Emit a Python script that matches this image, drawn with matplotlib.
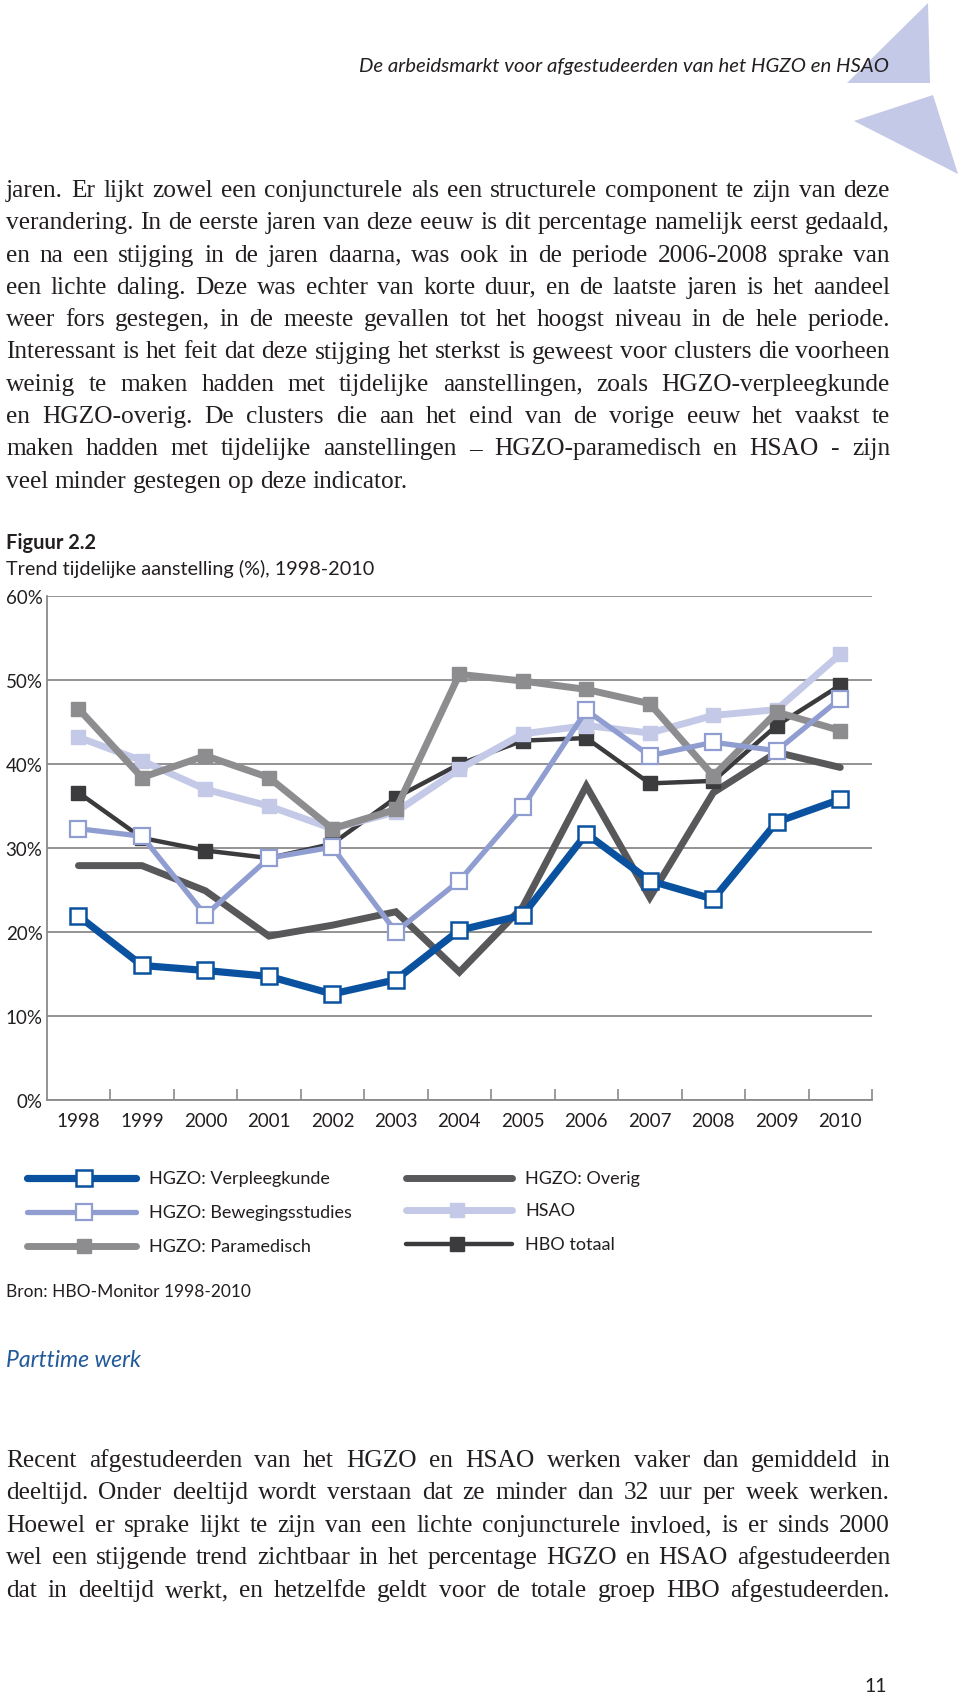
import matplotlib
matplotlib.use('Agg')
import matplotlib.pyplot as plt
from matplotlib.patches import Polygon
import numpy as np

W, H = 960, 1699

# --- data ---
years = ['1998', '1999', '2000', '2001', '2002', '2003', '2004',
         '2005', '2006', '2007', '2008', '2009', '2010']
verpleegkunde = [21.9, 16.0, 15.4, 14.7, 12.6, 14.3, 20.2, 22.0, 31.7, 26.1, 23.9, 33.1, 35.8]
bewegingsstudies = [32.3, 31.4, 22.0, 28.8, 30.1, 20.0, 26.1, 34.9, 46.4, 41.0, 42.6, 41.6, 47.8]
paramedisch = [46.6, 38.4, 41.0, 38.4, 32.3, 34.6, 50.7, 49.9, 48.9, 47.2, 38.6, 46.2, 44.0]
overig = [27.9, 27.9, 24.9, 19.5, 20.8, 22.4, 15.2, 23.0, 37.4, 24.1, 36.6, 41.4, 39.6]
hsao = [43.2, 40.4, 37.0, 35.0, 32.3, 34.3, 39.4, 43.6, 44.6, 43.7, 45.8, 46.5, 53.1]
hbo_totaal = [36.6, 31.2, 29.7, 28.8, 30.5, 36.0, 40.0, 42.8, 43.1, 37.7, 38.0, 44.6, 49.4]

yticks = [0, 10, 20, 30, 40, 50, 60]
ytick_labels = ['0%', '10%', '20%', '30%', '40%', '50%', '60%']

header = 'De arbeidsmarkt voor afgestudeerden van het HGZO en HSAO'
fig_title = 'Figuur 2.2'
fig_subtitle = 'Trend tijdelijke aanstelling (%), 1998-2010'
source = 'Bron: HBO-Monitor 1998-2010'
section = 'Parttime werk'
page_no = '11'

body_top = [
    "jaren. Er lijkt zowel een conjuncturele als een structurele component te zijn van deze",
    "verandering. In de eerste jaren van deze eeuw is dit percentage namelijk eerst gedaald,",
    "en na een stijging in de jaren daarna, was ook in de periode 2006-2008 sprake van",
    "een lichte daling. Deze was echter van korte duur, en de laatste jaren is het aandeel",
    "weer fors gestegen, in de meeste gevallen tot het hoogst niveau in de hele periode.",
    "Interessant is het feit dat deze stijging het sterkst is geweest voor clusters die voorheen",
    "weinig te maken hadden met tijdelijke aanstellingen, zoals HGZO-verpleegkunde",
    "en HGZO-overig. De clusters die aan het eind van de vorige eeuw het vaakst te",
    "maken hadden met tijdelijke aanstellingen – HGZO-paramedisch en HSAO -  zijn",
    "veel minder gestegen op deze indicator.",
]
body_bottom = [
    "Recent afgestudeerden van het HGZO en HSAO werken vaker dan gemiddeld in",
    "deeltijd. Onder deeltijd wordt verstaan dat ze minder dan 32 uur per week werken.",
    "Hoewel er sprake lijkt te zijn van een lichte conjuncturele invloed, is er sinds 2000",
    "wel een stijgende trend zichtbaar in het percentage HGZO en HSAO afgestudeerden",
    "dat in deeltijd werkt, en hetzelfde geldt voor de totale groep HBO afgestudeerden.",
]

# series in drawing order (bottom to top)
series = [
    ('HGZO: Overig', overig, dict(color='#58585a', lw=5.0, marker=None)),
    ('HBO totaal', hbo_totaal, dict(color='#3b3b3d', lw=3.2, marker='s', ms=9.5, mfc='#3b3b3d', mec='#3b3b3d')),
    ('HSAO', hsao, dict(color='#c3c9e6', lw=5.0, marker='s', ms=10, mfc='#c3c9e6', mec='#c3c9e6')),
    ('HGZO: Paramedisch', paramedisch, dict(color='#8d8d8f', lw=5.0, marker='s', ms=10.5, mfc='#8d8d8f', mec='#8d8d8f')),
    ('HGZO: Bewegingsstudies', bewegingsstudies, dict(color='#8f9dd0', lw=3.8, marker='s', ms=11, mfc='white', mec='#8f9dd0', mew=1.6)),
    ('HGZO: Verpleegkunde', verpleegkunde, dict(color='#0a52a0', lw=5.2, marker='s', ms=11, mfc='white', mec='#0a52a0', mew=1.8)),
]
style = {name: st for name, _, st in series}

TXT = '#231f20'
COND = ['DejaVu Sans Condensed', 'Liberation Sans Narrow', 'Lato', 'DejaVu Sans']
SANS = ['Lato', 'DejaVu Sans']

fig = plt.figure(figsize=(W / 100, H / 100), dpi=100)
renderer = fig.canvas.get_renderer()


def fx(x):
    return x / W


def fy(y):
    return 1 - y / H


def fit_text(x, y, s, width, ha='left', va='baseline', **kw):
    t = fig.text(fx(x), fy(y), s, ha=ha, va=va, fontsize=10, **kw)
    w = t.get_window_extent(renderer).width
    t.set_fontsize(10 * width / w)
    return t


def justify(lines, y0, step, left, right, size, ragged_last, **kw):
    for i, line in enumerate(lines):
        words = line.split()
        y = fy(y0 + i * step)
        ts = [fig.text(0, y, w, fontsize=size, va='baseline', color=TXT, **kw) for w in words]
        widths = [t.get_window_extent(renderer).width for t in ts]
        if ragged_last and i == len(lines) - 1:
            probe = fig.text(0, 0, 'a a', fontsize=size, **kw)
            probe2 = fig.text(0, 0, 'aa', fontsize=size, **kw)
            gap = probe.get_window_extent(renderer).width - probe2.get_window_extent(renderer).width
            probe.remove()
            probe2.remove()
        else:
            gap = (right - left - sum(widths)) / (len(words) - 1)
        x = left
        for t, w in zip(ts, widths):
            t.set_x(fx(x))
            x += w + gap


# overlay axes in pixel coordinates for page decorations and legend
lax = fig.add_axes([0, 0, 1, 1])
lax.set_xlim(0, W)
lax.set_ylim(H, 0)
lax.axis('off')
lax.add_patch(Polygon([(928, 4), (847, 84), (930, 84)], closed=True, color='#c3c9e6', lw=0))
lax.add_patch(Polygon([(933, 96), (854, 122), (958, 175)], closed=True, color='#c3c9e6', lw=0))

# header
fit_text(889, 72, header, 530, ha='right', family=SANS, style='italic', color=TXT)

# body text, sized so the widest line fills the column
SERIF = 'Liberation Serif'
probe_w = 0
for line in body_top[:-1] + body_bottom:
    t = fig.text(0, 0, line, fontsize=16, family=SERIF)
    probe_w = max(probe_w, t.get_window_extent(renderer).width)
    t.remove()
body_size = 16 * 880 / probe_w
justify(body_top, 197, 32.3, 6, 890, body_size, True, family=SERIF)
justify(body_bottom, 1467, 32.5, 6, 890, body_size, False, family=SERIF)

# caption
fit_text(6, 549, fig_title, 90, fontweight='bold', family=SANS, color=TXT)
fit_text(6, 575, fig_subtitle, 369, family=SANS, color=TXT)

# chart
ax = fig.add_axes([fx(46.7), fy(1100.7), (872 - 46.7) / W, (1100.7 - 597.3) / H])
x = np.arange(len(years))
for z, (name, vals, st) in enumerate(series):
    ax.plot(x, vals, label=name, solid_capstyle='round', solid_joinstyle='miter',
            zorder=3 + z, clip_on=False, **st)

ax.set_xlim(-0.5, len(years) - 0.5)
ax.set_ylim(0, 60)
ax.set_yticks(yticks)
ax.set_yticklabels(ytick_labels)
ax.set_xticks(x)
ax.set_xticklabels(years)
ax.set_xticks(np.arange(0.5, len(years), 1), minor=True)
ax.yaxis.grid(True, color='#8a8a8a', lw=1.3)
ax.set_axisbelow(True)
for side in ['top', 'right']:
    ax.spines[side].set_visible(False)
for side in ['left', 'bottom']:
    ax.spines[side].set_color('#8a8a8a')
    ax.spines[side].set_linewidth(1.3)
ax.tick_params(axis='y', length=0, pad=3, labelsize=13.5, labelcolor=TXT)
ax.tick_params(axis='x', which='major', length=0, pad=9, labelsize=13.5, labelcolor=TXT)
ax.tick_params(axis='x', which='minor', direction='in', length=8, width=1.2, color='#8a8a8a')
for lab in ax.get_xticklabels() + ax.get_yticklabels():
    lab.set_family(COND)

# legend drawn by hand
legend_left = ['HGZO: Verpleegkunde', 'HGZO: Bewegingsstudies', 'HGZO: Paramedisch']
legend_right = ['HGZO: Overig', 'HSAO', 'HBO totaal']
rows_left = [1179, 1213, 1247]
rows_right = [1179, 1211, 1245]
leg_size = 13
for names, rows, x0, x1, xm, xt in [(legend_left, rows_left, 27, 136, 84, 149),
                                     (legend_right, rows_right, 406, 512, 457, 525)]:
    for name, yy in zip(names, rows):
        st = dict(style[name])
        lax.plot([x0, x1], [yy, yy], color=st['color'], lw=st['lw'], solid_capstyle='round')
        if st.get('marker'):
            lax.plot([xm], [yy], ls='none', marker='s', ms=st['ms'], mfc=st['mfc'],
                     mec=st['mec'], mew=st.get('mew', 1))
        fig.text(fx(xt), fy(yy), name, va='center', fontsize=leg_size, family=COND, color=TXT)

fig.text(fx(6), fy(1297), source, fontsize=12.5, family=COND, color=TXT)
fit_text(6, 1367, section, 135, family=SANS, style='italic', color='#22599a')
fig.text(fx(887), fy(1687), page_no, ha='right', va='center', fontsize=14,
         family=COND, color=TXT)

fig.savefig('out.png', dpi=100, facecolor='white')
